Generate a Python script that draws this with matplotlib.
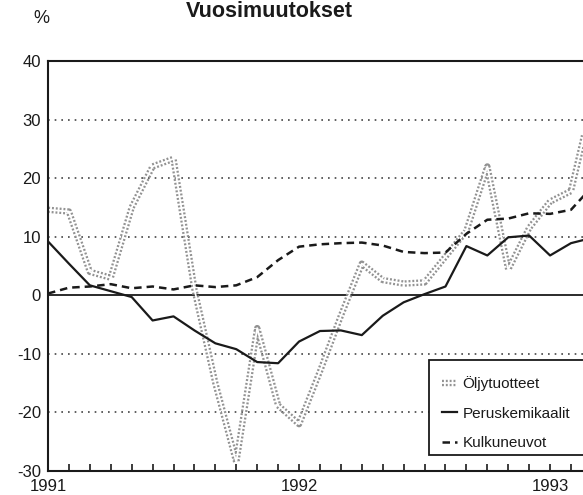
"""Vuosimuutokset: oil products, basic chemicals and vehicles, yearly change (%)."""
import matplotlib
matplotlib.use("Agg")
import matplotlib.pyplot as plt
from matplotlib.patches import Rectangle
import numpy as np

plt.rcParams["font.family"] = ["Liberation Sans", "DejaVu Sans"]

# monthly observations starting Jan 1991
MONTHS = np.arange(27)
OLJYTUOTTEET = [14.6, 14.3, 4.0, 3.0, 15.0, 22.0, 23.3, 1.0, -15.0, -28.5, -5.6, -18.8, -22.0,
                -13.0, -3.5, 5.4, 2.6, 2.0, 2.2, 6.6, 11.0, 22.0, 4.4, 11.5, 16.0, 17.8, 33.0]
PERUSKEMIKAALIT = [9.2, 5.4, 1.7, 0.7, -0.3, -4.3, -3.6, -6.0, -8.2, -9.2, -11.4, -11.6, -7.9,
                   -6.1, -6.0, -6.8, -3.5, -1.2, 0.2, 1.5, 8.4, 6.8, 9.9, 10.2, 6.8, 8.9, 9.8]
KULKUNEUVOT = [0.3, 1.3, 1.5, 1.9, 1.2, 1.5, 1.0, 1.7, 1.4, 1.7, 3.1, 6.0, 8.3,
               8.7, 8.9, 9.0, 8.5, 7.4, 7.2, 7.3, 10.5, 12.9, 13.1, 14.0, 13.9, 14.6, 18.5]
SERIES_LABELS = ["Öljytuotteet", "Peruskemikaalit", "Kulkuneuvot"]
YEAR_TICKS = [0, 12, 24]
YEAR_LABELS = ["1991", "1992", "1993"]
Y_TICKS = [-30, -20, -10, 0, 10, 20, 30, 40]
DOTTED_LEVELS = [-20, -10, 10, 20, 30]

INK = "#1a1a1a"
W, H = 583, 495


def main():
    fig = plt.figure(figsize=(W / 100, H / 100), dpi=100)
    # the right part of the original chart is cut off by the scan
    ax = fig.add_axes([48 / W, 24 / H, 27 * 20.92 / W, 410 / H])

    for lvl in DOTTED_LEVELS:
        ax.axhline(lvl, color="#444", lw=1.2, ls=(0, (1, 3)), zorder=1)
    ax.axhline(0, color=INK, lw=1.3, zorder=1)

    oil_base, = ax.plot(MONTHS, OLJYTUOTTEET, color="#929292", lw=4.6,
                        ls=(0, (0.3, 0.3)), solid_capstyle="butt", zorder=2)
    oil_core, = ax.plot(MONTHS, OLJYTUOTTEET, color="white", lw=1.3, zorder=2.1)
    chem, = ax.plot(MONTHS, PERUSKEMIKAALIT, color=INK, lw=1.6, zorder=3)
    veh, = ax.plot(MONTHS, KULKUNEUVOT, color=INK, lw=1.8, ls=(0, (3, 2)), zorder=3)

    ax.set_xlim(0, 27)
    ax.set_ylim(-30, 40)
    ax.set_yticks(Y_TICKS)
    ax.set_yticklabels([str(v) for v in Y_TICKS])
    ax.set_xticks(YEAR_TICKS)
    ax.set_xticklabels(YEAR_LABELS)
    ax.set_xticks(MONTHS, minor=True)
    ax.tick_params(axis="x", which="both", direction="in", length=5, width=1.2,
                   color=INK, labelsize=12, labelcolor=INK, pad=6)
    ax.tick_params(axis="y", length=0, labelsize=12, labelcolor=INK, pad=5)
    for side in ("left", "bottom", "top"):
        ax.spines[side].set_color(INK)
        ax.spines[side].set_linewidth(1.5)
    ax.spines["right"].set_visible(False)

    # legend frame runs off the right edge like in the scan
    frame = Rectangle((429 / W, (H - 455) / H), 200 / W, 95 / H, transform=fig.transFigure,
                      facecolor="white", edgecolor=INK, lw=1.3, zorder=4)
    ax.add_patch(frame)
    frame.set_clip_on(False)
    leg = ax.legend([(oil_base, oil_core), chem, veh], SERIES_LABELS,
                    loc="upper left", bbox_to_anchor=(442 / W, (H - 376) / H),
                    bbox_transform=fig.transFigure, borderaxespad=0, borderpad=0,
                    fontsize=11, handlelength=1.0, handletextpad=0.33,
                    labelspacing=1.02, frameon=False)
    leg.set_zorder(5)
    for t in leg.get_texts():
        t.set_color(INK)

    fig.text(269 / W, (H - 1) / H, "Vuosimuutokset", ha="center", va="top",
             fontsize=15.5, fontweight="bold", color=INK)
    fig.text(41 / W, 1 - 18.5 / H, "%", ha="center", va="center", fontsize=13, color=INK)

    fig.savefig("out.png", dpi=100)
    plt.close(fig)


if __name__ == "__main__":
    main()
